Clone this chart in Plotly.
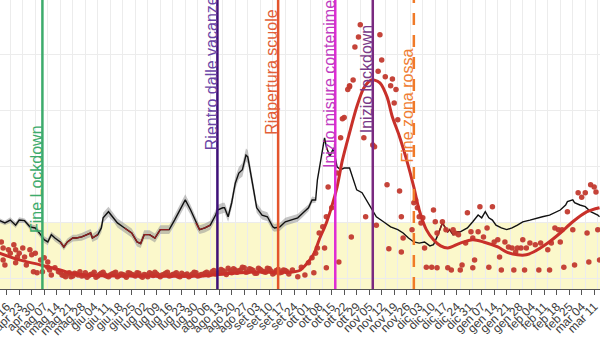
import pandas as pd
import plotly.graph_objects as go

# Day offsets below are counted from this date
BASE = pd.Timestamp("2020-04-16")

# Visible window and axis ticks
x_start = "2020-04-12 06:00"
x_end = "2021-03-14 06:00"
y_range = [-0.18, 4.98]
tick_dates = pd.date_range("2020-04-16", periods=48, freq="7D")
tick_labels = [
    "apr 16", "apr 23", "apr 30", "mag 07", "mag 14", "mag 21", "mag 28",
    "giu 04", "giu 11", "giu 18", "giu 25", "lug 02", "lug 09", "lug 16",
    "lug 23", "lug 30", "ago 06", "ago 13", "ago 20", "ago 27", "set 03",
    "set 10", "set 17", "set 24", "ott 01", "ott 08", "ott 15", "ott 22",
    "ott 29", "nov 05", "nov 12", "nov 19", "nov 26", "dic 03", "dic 10",
    "dic 17", "dic 24", "dic 31", "gen 07", "gen 14", "gen 21", "gen 28",
    "feb 04", "feb 11", "feb 18", "feb 25", "mar 04", "mar 11",
]
grid_start = "2020-04-18"

# Shaded zone: everything below an index of 1
band_high = 1

# Index estimate (black line)
black_day = [
    -4, -1, 2, 5, 7, 10, 13, 16, 19, 21, 23, 25, 27, 30, 32, 34, 37, 39, 42, 45,
    47, 48, 51, 53, 54, 57, 60, 62, 66, 70, 73, 75, 77, 80, 83, 86, 89, 91, 94, 97,
    100, 103, 106, 108, 111, 114, 117, 118, 121, 122, 124, 126, 128, 130, 132, 134,
    135, 136, 138, 140, 143, 146, 149, 150, 153, 156, 159, 163, 166, 169, 171, 173,
    174, 177, 178, 179, 181, 183, 185, 187, 189, 192, 194, 196, 199, 202, 205, 207,
    211, 215, 219, 222, 225, 228, 231, 234, 237, 239, 241, 243, 244, 247, 248, 250,
    252, 254, 258, 261, 264, 266, 268, 270, 272, 274, 277, 280, 283, 286, 289, 293,
    297, 300, 304, 307, 310, 313, 314, 317, 318, 321, 324, 327, 331, 332,
]
black_val = [
    1.04, 1.00, 1.05, 0.96, 1.05, 1.04, 0.93, 0.91, 0.79, 0.70, 0.66, 0.79, 0.73, 0.66, 0.57, 0.66, 0.73, 0.73, 0.75, 0.79,
    0.82, 0.73, 0.79, 0.91, 1.09, 1.20, 1.09, 1.00, 0.91, 0.82, 0.66, 0.63, 0.79, 0.79, 0.73, 0.88, 0.88, 0.88, 1.05, 1.23,
    1.41, 1.23, 1.00, 0.88, 0.91, 0.96, 1.14, 1.23, 1.27, 1.27, 1.11, 1.36, 1.71, 1.89, 1.95, 2.21,
    2.18, 1.98, 1.64, 1.27, 1.14, 1.11, 0.93, 0.91, 0.93, 1.02, 1.05, 1.09, 1.18, 1.27, 1.41, 1.41,
    1.77, 2.30, 2.52, 2.36, 2.18, 2.34, 2.00, 1.95, 1.98, 1.98, 1.77, 1.59, 1.54, 1.38, 1.23, 1.11,
    1.02, 0.93, 0.88, 0.82, 0.73, 0.66, 0.64, 0.66, 0.59, 0.61, 0.75, 0.91, 1.00, 0.84, 0.88, 0.79,
    0.84, 0.84, 0.91, 1.02, 1.14, 1.09, 1.20, 1.09, 1.05, 0.96, 0.91, 0.88, 0.91, 0.96, 1.02, 1.05,
    1.09, 1.11, 1.14, 1.18, 1.23, 1.32, 1.38, 1.41, 1.36, 1.32, 1.29, 1.20, 1.14, 1.11,
]
# Half width of the confidence ribbon for the first points of the series
black_ci = [
    0.04, 0.04, 0.05, 0.05, 0.05, 0.04, 0.05, 0.05, 0.06, 0.06, 0.06, 0.05, 0.06, 0.06, 0.06, 0.06, 0.06, 0.06, 0.07, 0.07,
    0.07, 0.07, 0.08, 0.08, 0.09, 0.09, 0.08, 0.08, 0.08, 0.08, 0.08, 0.08, 0.08, 0.08, 0.08, 0.08, 0.08, 0.08, 0.09, 0.09,
    0.10, 0.09, 0.09, 0.08, 0.08, 0.08, 0.09, 0.09, 0.09, 0.09, 0.09, 0.10, 0.11, 0.11, 0.12, 0.12, 0.12, 0.11, 0.10, 0.09,
    0.08, 0.08, 0.07, 0.07, 0.07, 0.07, 0.07, 0.07, 0.07, 0.06, 0.06, 0.05,
]
# Periods where the second estimate (dark red) runs on top of the black one
overlay_windows = [(30, 52), (64, 93), (105, 116), (241, 254)]

# Daily values (points)
dot_day = [
    -3, -2, -2, -1, 1, 2, 4, 5, 5, 6, 7, 9, 10, 11, 13, 14, 15, 16, 17, 19, 20, 21, 23, 23, 24, 25, 27, 29,
    31, 33, 35, 37, 39, 41, 43, 45, 47, 49, 51, 53, 55, 57, 59, 61, 63, 65, 67, 69, 71, 73,
    75, 77, 79, 81, 83, 85, 87, 89, 91, 93, 95, 97, 99, 101, 103, 105, 107, 109, 111, 113,
    115, 117, 119, 121, 123, 125, 127, 129, 131, 133, 135, 137, 139, 141, 143, 145, 147, 149, 151, 153,
    155, 157,
    160, 163, 165, 167, 169, 171, 172, 173, 174, 175, 177, 178, 179, 179, 180, 182, 185, 186, 187, 188,
    189, 191, 192, 192, 193, 194, 195, 197, 198, 200, 201, 205, 206, 207, 208, 209, 210, 212, 213, 214,
    215, 216, 217, 218, 219, 220, 221, 221, 222, 227, 228, 229, 230, 231, 232, 233, 234, 235, 238, 239,
    240, 241, 241,
    244, 246, 247, 249, 250, 251, 253, 254, 255, 257, 258, 260, 261, 261, 262, 264, 265, 267, 269, 270,
    272, 273, 275, 276, 277, 279, 281, 283, 284, 285, 286, 288, 289, 290, 291, 293, 296, 298, 299, 303,
    304, 305, 307, 309, 310, 311, 312, 314, 317, 318, 320, 322, 324, 325, 326, 327, 329, 330, 331, 332,
]
dot_val = [
    0.66, 0.55, 0.34, 0.25, 0.52, 0.46, 0.61, 0.52, 0.29, 0.39, 0.46, 0.55, 0.39, 0.25, 0.52, 0.43, 0.13, 0.46, 0.11, 0.34, 0.13, 0.38, 0.30, 0.21, 0.16, 0.07, 0.20, 0.13,
    0.07, 0.04, 0.11, 0.05, 0.09, 0.13, 0.06, 0.03, 0.08, 0.12, 0.05, 0.10, 0.07, 0.04, 0.09, 0.12, 0.06, 0.08, 0.03, 0.10,
    0.07, 0.11, 0.05, 0.08, 0.04, 0.09, 0.12, 0.06, 0.07, 0.10, 0.05, 0.08, 0.11, 0.04, 0.07, 0.09, 0.06, 0.12, 0.05, 0.08,
    0.10, 0.07, 0.13, 0.09, 0.11, 0.15, 0.08, 0.14, 0.18, 0.12, 0.16, 0.20, 0.13, 0.17, 0.10, 0.19, 0.14, 0.12, 0.18, 0.09,
    0.15, 0.11, 0.16, 0.13,
    0.16, 0.04, 0.21, 0.07, 0.29, 0.38, 0.11, 0.46, 0.55, 0.82, 0.93, 0.55, 0.20, 1.11, 1.64, 1.27, 1.89, 0.30, 2.52, 2.86,
    2.88, 3.38, 3.43, 3.45, 0.75, 3.55, 4.14, 4.32, 4.54, 2.52, 1.11, 2.39, 2.36, 0.96, 3.71, 4.36, 3.91, 3.61, 1.68, 0.54,
    3.45, 3.57, 3.14, 3.38, 2.84, 1.57, 1.11, 0.48, 0.73, 0.88, 1.36, 1.41, 1.27, 1.11, 1.00, 1.09, 0.55, 0.21, 0.21, 1.23,
    1.02, 0.82, 0.20,
    1.02, 0.88, 0.20, 0.16, 0.88, 0.82, 0.79, 0.16, 0.25, 0.64, 1.18, 0.84, 0.73, 0.20, 0.34, 0.84, 1.29, 0.75, 0.91, 0.21,
    1.29, 0.66, 0.70, 0.39, 0.16, 0.66, 0.57, 0.55, 0.16, 0.48, 0.55, 0.55, 0.70, 0.16, 0.55, 0.64, 0.61, 0.16, 0.64, 0.52,
    0.16, 0.64, 0.91, 0.88, 0.66, 0.88, 0.21, 1.20, 0.88, 0.25, 1.54, 1.46, 1.54, 0.82, 0.30, 1.68, 1.64, 1.55, 0.88, 0.34,
]
# Remaining daily values of the quiet summer months (even days 30..158)
summer_day = list(range(30, 159, 2))
summer_val = [
    0.12, 0.06, 0.09, 0.04, 0.10, 0.07, 0.05, 0.11, 0.06, 0.09,
    0.03, 0.08, 0.12, 0.05, 0.07, 0.10, 0.04, 0.09, 0.06, 0.11,
    0.08, 0.05, 0.10, 0.03, 0.07, 0.11, 0.06, 0.09, 0.04, 0.08,
    0.12, 0.06, 0.09, 0.05, 0.10, 0.07, 0.04, 0.09, 0.11, 0.06,
    0.08, 0.12, 0.09, 0.15, 0.10, 0.17, 0.13, 0.19, 0.11, 0.16,
    0.14, 0.21, 0.12, 0.18, 0.15, 0.10, 0.17, 0.13, 0.19, 0.14,
    0.11, 0.17, 0.12, 0.15, 0.09,
]

# Smoothed trend through the daily values
curve_day = [
    -4, 7, 19, 30, 35, 43, 80, 108, 122, 136, 151, 159, 164, 168, 172, 175, 179, 182, 185, 188,
    192, 196, 200, 204, 206, 209, 213, 216, 220, 224, 228, 231, 235, 239, 243, 247, 254, 261, 267, 275,
    280, 286, 291, 295, 303, 310, 317, 325, 332,
]
curve_val = [
    0.46, 0.34, 0.25, 0.16, 0.11, 0.07, 0.05, 0.05, 0.09, 0.12, 0.12, 0.12, 0.15, 0.27, 0.45, 0.70, 1.00, 1.29, 1.64, 2.12,
    2.61, 3.07, 3.41, 3.55, 3.55, 3.50, 3.25, 2.89, 2.54, 2.12, 1.64, 1.23, 0.88, 0.70, 0.59, 0.55, 0.64, 0.70, 0.66, 0.57,
    0.48, 0.43, 0.43, 0.48, 0.64, 0.82, 1.02, 1.20, 1.27,
]

# Events
event_labels = ["Fine Lockdown", "Rientro dalle vacanze", "Riapertura scuole",
                "Inizio misure contenimento", "Inizio lockdown", "Fine zona rossa"]
event_dates = ["2020-05-06", "2020-08-12", "2020-09-15", "2020-10-17", "2020-11-07", "2020-11-30"]
event_colors = ["#3dab6c", "#3e1078", "#e4552d", "#e02cd4", "#7a2a80", "#f07a28"]
event_text_colors = ["#3dab6c", "#6b45a6", "#e25f37", "#c03cc0", "#7a3a88", "#f07e34"]
event_dash = ["solid", "solid", "solid", "solid", "solid", "12px,10px"]
event_label_y = [0.79, 2.27, 2.54, 1.95, 2.57, 2.04]

FONT = "Liberation Sans, Arial, sans-serif"


def to_dates(days):
    return [BASE + pd.Timedelta(days=d) for d in days]


black_x = to_dates(black_day)
ci_x = black_x[:len(black_ci)]
ci_lo = [v - c for v, c in zip(black_val, black_ci)]
ci_hi = [v + c for v, c in zip(black_val, black_ci)]

ov_x, ov_y = [], []
for lo, hi in overlay_windows:
    for d, v in zip(black_day, black_val):
        if lo <= d <= hi:
            ov_x.append(BASE + pd.Timedelta(days=d))
            ov_y.append(v)
    ov_x.append(None)
    ov_y.append(None)

fig = go.Figure()

fig.add_trace(go.Scatter(x=ci_x, y=ci_lo, mode="lines", line=dict(width=0),
                         hoverinfo="skip", showlegend=False))
fig.add_trace(go.Scatter(x=ci_x, y=ci_hi, mode="lines", line=dict(width=0),
                         fill="tonexty", fillcolor="rgba(150,150,150,0.55)",
                         hoverinfo="skip", showlegend=False))
fig.add_trace(go.Scatter(x=black_x, y=black_val, mode="lines",
                         line=dict(color="#111111", width=1.4), showlegend=False))
fig.add_trace(go.Scatter(x=ov_x, y=ov_y, mode="lines", connectgaps=False,
                         line=dict(color="#8e1f1f", width=1.4), showlegend=False))
fig.add_trace(go.Scatter(x=to_dates(dot_day) + to_dates(summer_day), y=dot_val + summer_val,
                         mode="markers",
                         marker=dict(size=5.5, color="#c23a2f", opacity=0.95),
                         showlegend=False))
fig.add_trace(go.Scatter(x=to_dates(curve_day), y=curve_val, mode="lines",
                         line=dict(color="#c8302a", width=3, shape="spline", smoothing=0.8),
                         showlegend=False))
# carries the weekly grid axis
fig.add_trace(go.Scatter(x=[x_start, x_end], y=[None, None], xaxis="x2",
                         mode="lines", hoverinfo="skip", showlegend=False))

fig.add_shape(type="rect", xref="paper", x0=0, x1=1, yref="y", y0=y_range[0], y1=band_high,
              fillcolor="#fbf8cb", line=dict(width=0), layer="below")

for date, color, dash in zip(event_dates, event_colors, event_dash):
    fig.add_shape(type="line", xref="x", x0=date, x1=date, yref="paper", y0=0, y1=1,
                  line=dict(color=color, width=2.5, dash=dash), layer="above")

for label, date, tcolor, ly in zip(event_labels, event_dates, event_text_colors, event_label_y):
    fig.add_annotation(x=date, y=ly, xref="x", yref="y", text=label, textangle=-90,
                       showarrow=False, xanchor="center", yanchor="bottom", xshift=-6,
                       font=dict(family=FONT, size=16, color=tcolor))

fig.update_layout(
    width=600, height=337,
    margin=dict(l=0, r=0, t=0, b=48, pad=0),
    paper_bgcolor="white", plot_bgcolor="white",
    showlegend=False,
    xaxis=dict(
        type="date", range=[x_start, x_end],
        tickmode="array", tickvals=tick_dates, ticktext=tick_labels,
        tickangle=-45, tickfont=dict(family=FONT, size=12, color="#3a3a3a"),
        ticklabeloverflow="allow",
        ticks="outside", ticklen=5, tickcolor="#555555",
        showline=True, linecolor="#555555", linewidth=1,
        showgrid=False, zeroline=False, automargin=False,
    ),
    xaxis2=dict(
        type="date", range=[x_start, x_end], overlaying="x", anchor="y",
        tickmode="linear", tick0=grid_start, dtick=7 * 86400000,
        showgrid=True, gridcolor="#ececec", gridwidth=1,
        showticklabels=False, ticks="", showline=False, zeroline=False,
    ),
    yaxis=dict(
        range=y_range, tick0=0, dtick=1,
        showgrid=True, gridcolor="#ececec", gridwidth=1,
        showticklabels=False, ticks="", zeroline=False, showline=False,
    ),
)

fig.write_html("out.html")
